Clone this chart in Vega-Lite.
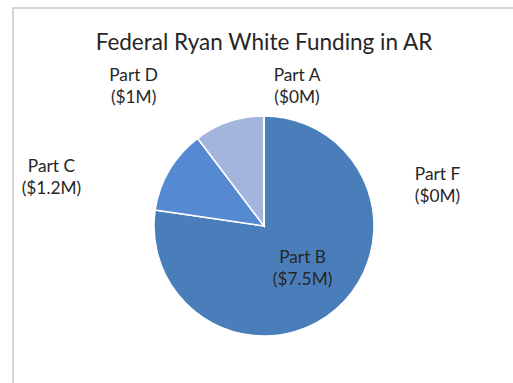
{
  "$schema": "https://vega.github.io/schema/vega-lite/v6.json",
  "width": 502,
  "height": 436,
  "autosize": "none",
  "padding": {"left": 13, "top": 8, "right": 0, "bottom": 0},
  "background": "white",
  "view": {"stroke": "#c8c8c8", "strokeWidth": 1.5},
  "title": {
    "text": "Federal Ryan White Funding in AR",
    "font": "Lato",
    "fontSize": 22.5,
    "fontWeight": "normal",
    "color": "#262626",
    "anchor": "middle",
    "baseline": "alphabetic",
    "offset": -64
  },
  "config": {
    "view": {"stroke": "#c8c8c8", "strokeWidth": 1.5},
    "text": {"font": "Lato", "fontSize": 17.3, "color": "#262626", "lineBreak": "\n", "lineHeight": 22, "align": "center", "baseline": "middle"}
  },
  "data": {
    "values": [
      {"part": "Part A", "amount": 0, "label": "Part A\n($0M)"},
      {"part": "Part B", "amount": 7.5, "label": "Part B\n($7.5M)"},
      {"part": "Part C", "amount": 1.2, "label": "Part C\n($1.2M)"},
      {"part": "Part D", "amount": 1.0, "label": "Part D\n($1M)"},
      {"part": "Part F", "amount": 0, "label": "Part F\n($0M)"}
    ]
  },
  "encoding": {
    "theta": {"field": "amount", "type": "quantitative", "stack": true},
    "order": {"field": "part", "type": "nominal", "sort": "ascending"}
  },
  "layer": [
    {
      "mark": {"type": "arc", "radius": 110, "stroke": "white", "strokeWidth": 1.5},
      "encoding": {
        "color": {
          "field": "part",
          "type": "nominal",
          "scale": {"domain": ["Part A", "Part B", "Part C", "Part D", "Part F"], "range": ["#4a7ebb", "#4a7ebb", "#558ad3", "#a4b5dd", "#9bbb59"]},
          "legend": null
        }
      }
    },
    {
      "mark": {"type": "text", "radius": 59, "dy": -12.5},
      "encoding": {"text": {"condition": {"test": "datum.part === 'Part B'", "field": "label"}, "value": ""}}
    },
    {
      "mark": {"type": "text", "radius": 150, "dx": 33},
      "encoding": {"text": {"condition": {"test": "datum.part === 'Part A'", "field": "label"}, "value": ""}}
    },
    {
      "mark": {"type": "text", "radius": 125, "dx": -105, "dy": 5},
      "encoding": {"text": {"condition": {"test": "datum.part === 'Part C'", "field": "label"}, "value": ""}}
    },
    {
      "mark": {"type": "text", "radius": 125, "dx": -90.6, "dy": -31.5},
      "encoding": {"text": {"condition": {"test": "datum.part === 'Part D'", "field": "label"}, "value": ""}}
    },
    {
      "mark": {"type": "text", "radius": 125, "dx": 173.5, "dy": 73.5},
      "encoding": {"text": {"condition": {"test": "datum.part === 'Part F'", "field": "label"}, "value": ""}}
    }
  ]
}
